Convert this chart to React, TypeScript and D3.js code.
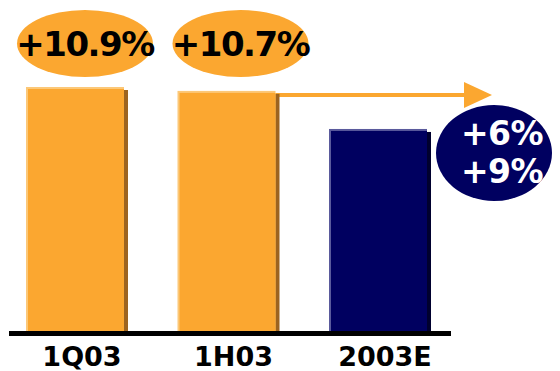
import React from "react";
import * as d3 from "d3";

const categories = ["1Q03", "1H03", "2003E"];
const values = [100, 98.4, 82.8];
const barColors = ["#FBA730", "#FBA730", "#000060"];
const highlightColors = ["#FCC878", "#FCC878", "#5A5A9C"];
const shadowColors = ["#9C6420", "#9C6420", "#00002E"];
const growthLabels = ["+10.9%", "+10.7%"];
const targetLabels = ["+6%", "+9%"];

const W = 560;
const H = 371;
const baseY = 331;
const barW = 98;

export default function App() {
  const x = d3.scalePoint<string>().domain(categories).range([75, 378]);
  const y = d3.scaleLinear().domain([0, 100]).range([baseY, 87]);
  const orange = "#FBA730";
  const navy = "#000060";

  const b2 = categories[1];
  const arrowY = y(values[1]) + 4;
  const arrowStart = (x(b2) as number) + barW / 2;
  const arrowEnd = 464;

  return (
    <svg
      width={W}
      height={H}
      style={{ position: "absolute", left: 0, top: 0, background: "#fff" }}
      fontFamily="'DejaVu Sans', Verdana, sans-serif"
      fontWeight="bold"
    >
      {/* arrow */}
      <line x1={arrowStart} x2={arrowEnd + 2} y1={arrowY} y2={arrowY} stroke={orange} strokeWidth={4} />
      <path d={`M${arrowEnd},${arrowY - 13} L${arrowEnd + 28},${arrowY} L${arrowEnd},${arrowY + 13} Z`} fill={orange} />

      {categories.map((c, i) => {
        const cx = x(c) as number;
        const left = cx - barW / 2;
        const top = y(values[i]);
        return (
          <g key={c}>
            <rect x={left + 3} y={top + 3} width={barW + 1} height={baseY - top - 3} fill={shadowColors[i]} />
            <rect x={left} y={top} width={barW} height={baseY - top} fill={highlightColors[i]} />
            <rect x={left + 2} y={top + 2} width={barW - 2} height={baseY - top - 2} fill={barColors[i]} />
            <text x={cx + 7} y={366} textAnchor="middle" fontSize={27} fill="#000">
              {c}
            </text>
          </g>
        );
      })}

      {/* axis */}
      <rect x={9} y={331} width={442} height={5} fill="#000" />

      {/* growth ellipses */}
      {growthLabels.map((g, i) => {
        const cx = (x(categories[i]) as number) + 10 + i * 4;
        return (
          <g key={g}>
            <ellipse cx={cx} cy={43.5} rx={68} ry={33.5} fill={orange} />
            <text x={cx} y={56} textAnchor="middle" fontSize={34} letterSpacing={-1.5} fill="#000">
              {g}
            </text>
          </g>
        );
      })}

      {/* target ellipse */}
      <ellipse cx={494} cy={153} rx={58} ry={48} fill={navy} />
      {targetLabels.map((t, i) => (
        <text key={t} x={502} y={145 + i * 38} textAnchor="middle" fontSize={33} letterSpacing={-0.5} fill="#fff">
          {t}
        </text>
      ))}
    </svg>
  );
}
